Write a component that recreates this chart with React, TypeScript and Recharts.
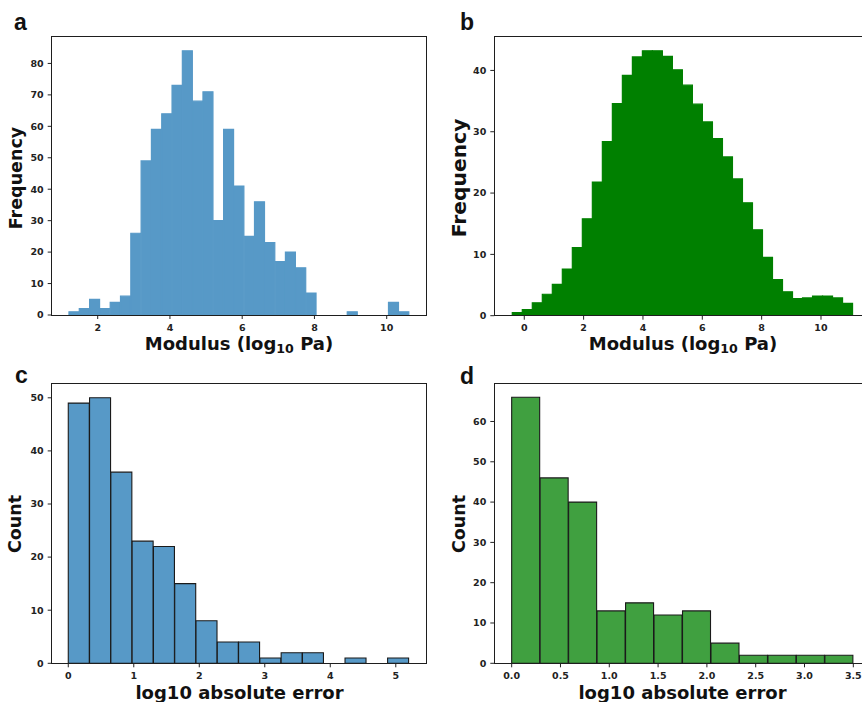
import React from 'react';
import { BarChart, Bar, XAxis, YAxis } from 'recharts';

// histogram bin counts
const modulusExpCounts = [1, 2, 5, 2, 4, 6, 26, 49, 59, 64, 73, 84, 68, 71, 30, 59, 41, 25, 36, 23, 17, 20, 15, 7, 0, 0, 0, 1, 0, 0, 0, 4, 1];
const modulusExpStart = 1.205;
const modulusExpWidth = 0.2853;

const modulusPredFreq = [0.5, 1.0, 2.1, 3.5, 5.1, 7.6, 11.1, 15.8, 21.8, 28.4, 34.6, 39.2, 42.2, 43.2, 43.2, 42.3, 40.1, 37.6, 34.5, 31.6, 28.9, 25.9, 22.3, 18.4, 14.0, 9.5, 5.9, 3.9, 2.8, 2.9, 3.2, 3.2, 2.9, 2.0];
const modulusPredStart = -0.404;
const modulusPredWidth = 0.3373;

const errorBlueCounts = [49, 50, 36, 23, 22, 15, 8, 4, 4, 1, 2, 2, 0, 1, 0, 1];
const errorBlueStart = 0;
const errorBlueWidth = 0.325;

const errorGreenCounts = [66, 46, 40, 13, 15, 12, 13, 5, 2, 2, 2, 2];
const errorGreenStart = 0;
const errorGreenWidth = 0.2917;

const ticksA = [2, 4, 6, 8, 10];
const ticksB = [0, 2, 4, 6, 8, 10];
const ticksC = [0, 1, 2, 3, 4, 5];
const ticksD = [0, 0.5, 1, 1.5, 2, 2.5, 3, 3.5];
const yTicksA = [0, 10, 20, 30, 40, 50, 60, 70, 80];
const yTicksB = [0, 10, 20, 30, 40];
const yTicksC = [0, 10, 20, 30, 40, 50];
const yTicksD = [0, 10, 20, 30, 40, 50, 60];

const toBins = (counts: number[], start: number, width: number) =>
  counts.map((y, i) => ({ x: start + width * (i + 0.5), y }));

const tickStyle = { fontSize: 9.5, fontWeight: 700, fill: '#222', fontFamily: 'DejaVu Sans' };
const Y_W = 40;
const X_H = 30;

interface PanelProps {
  data: { x: number; y: number }[];
  chart: { left: number; top: number; width: number; height: number };
  plot: { l: number; t: number; r: number; b: number };
  xDomain: [number, number];
  yDomain: [number, number];
  xTicks: number[];
  yTicks: number[];
  xFormat?: (v: number) => string;
  fill: string;
  stroke: string;
  strokeWidth: number;
}

function Panel({ data, chart, plot, xDomain, yDomain, xTicks, yTicks, xFormat, fill, stroke, strokeWidth }: PanelProps) {
  const margin = {
    top: plot.t - chart.top,
    left: plot.l - chart.left - Y_W,
    right: chart.left + chart.width - plot.r,
    bottom: chart.top + chart.height - plot.b - X_H,
  };
  return (
    <>
      <div style={{ position: 'absolute', left: chart.left, top: chart.top }}>
        <BarChart width={chart.width} height={chart.height} data={data} margin={margin} barCategoryGap={0} barGap={0}>
          <XAxis
            dataKey="x"
            type="number"
            domain={xDomain}
            ticks={xTicks}
            allowDataOverflow
            interval={0}
            height={X_H}
            tickSize={4}
            tickMargin={5}
            axisLine={false}
            tickLine={{ stroke: '#222' }}
            tick={tickStyle}
            tickFormatter={xFormat}
          />
          <YAxis
            type="number"
            domain={yDomain}
            ticks={yTicks}
            allowDataOverflow
            interval={0}
            width={Y_W}
            tickSize={4}
            tickMargin={4}
            axisLine={false}
            tickLine={{ stroke: '#222' }}
            tick={tickStyle}
          />
          <Bar dataKey="y" fill={fill} stroke={stroke} strokeWidth={strokeWidth} isAnimationActive={false} />
        </BarChart>
      </div>
      <div
        style={{
          position: 'absolute',
          left: plot.l - 0.8,
          top: plot.t - 0.8,
          width: plot.r - plot.l + 1.6,
          height: plot.b - plot.t + 1.6,
          border: '1.6px solid #1e1e1e',
          boxSizing: 'border-box',
          pointerEvents: 'none',
        }}
      />
    </>
  );
}

const letterStyle: React.CSSProperties = {
  position: 'absolute',
  fontFamily: '"Liberation Sans", Arial, sans-serif',
  fontWeight: 700,
  fontSize: 23,
  lineHeight: 1,
  color: '#111',
};

const titleStyle = (x: number, y: number, size: number, rotate = false): React.CSSProperties => ({
  position: 'absolute',
  left: x,
  top: y,
  transform: `translate(-50%, -50%)${rotate ? ' rotate(-90deg)' : ''}`,
  fontFamily: '"DejaVu Sans", sans-serif',
  fontWeight: 700,
  fontSize: size,
  lineHeight: 1,
  whiteSpace: 'nowrap',
  color: '#111',
});

const ModulusLabel = () => (
  <>
    Modulus (log<sub style={{ fontSize: '0.7em', verticalAlign: '-0.25em' }}>10</sub> Pa)
  </>
);

export default function App() {
  return (
    <div style={{ position: 'absolute', left: 0, top: 0, width: 862, height: 702, overflow: 'hidden', background: '#fff' }}>
      <Panel
        data={toBins(modulusExpCounts, modulusExpStart, modulusExpWidth)}
        chart={{ left: 0, top: 0, width: 440, height: 360 }}
        plot={{ l: 51.7, t: 36.7, r: 426.7, b: 315 }}
        xDomain={[0.727, 11.107]}
        yDomain={[0, 88.5]}
        xTicks={ticksA}
        yTicks={yTicksA}
        fill="#5799C7"
        stroke="#5799C7"
        strokeWidth={1.2}
      />
      <Panel
        data={toBins(modulusPredFreq, modulusPredStart, modulusPredWidth)}
        chart={{ left: 440, top: 0, width: 440, height: 360 }}
        plot={{ l: 494.3, t: 36.7, r: 869.5, b: 315.7 }}
        xDomain={[-1.01, 11.635]}
        yDomain={[0, 45.5]}
        xTicks={ticksB}
        yTicks={yTicksB}
        fill="#008000"
        stroke="#008000"
        strokeWidth={1.2}
      />
      <Panel
        data={toBins(errorBlueCounts, errorBlueStart, errorBlueWidth)}
        chart={{ left: 0, top: 360, width: 440, height: 342 }}
        plot={{ l: 51.7, t: 384, r: 426.7, b: 663.3 }}
        xDomain={[-0.253, 5.472]}
        yDomain={[0, 52.6]}
        xTicks={ticksC}
        yTicks={yTicksC}
        fill="#5799C7"
        stroke="#1a1a1a"
        strokeWidth={1.1}
      />
      <Panel
        data={toBins(errorGreenCounts, errorGreenStart, errorGreenWidth)}
        chart={{ left: 440, top: 360, width: 440, height: 342 }}
        plot={{ l: 494.3, t: 384, r: 870.4, b: 663.3 }}
        xDomain={[-0.178, 3.675]}
        yDomain={[0, 69.3]}
        xTicks={ticksD}
        yTicks={yTicksD}
        xFormat={(v) => v.toFixed(1)}
        fill="#40A040"
        stroke="#1a1a1a"
        strokeWidth={1.1}
      />

      <div style={{ ...letterStyle, left: 14, top: 11 }}>a</div>
      <div style={{ ...letterStyle, left: 460, top: 10.5 }}>b</div>
      <div style={{ ...letterStyle, left: 15, top: 364 }}>c</div>
      <div style={{ ...letterStyle, left: 460, top: 364.5 }}>d</div>

      <div style={titleStyle(239, 345, 18)}><ModulusLabel /></div>
      <div style={titleStyle(683, 345, 18)}><ModulusLabel /></div>
      <div style={titleStyle(239.5, 693, 18)}>log10 absolute error</div>
      <div style={titleStyle(682.5, 693, 18)}>log10 absolute error</div>

      <div style={titleStyle(17, 178, 17.5, true)}>Frequency</div>
      <div style={titleStyle(458.5, 177.5, 20.3, true)}>Frequency</div>
      <div style={titleStyle(15.5, 524, 17.5, true)}>Count</div>
      <div style={titleStyle(459.5, 524, 17.5, true)}>Count</div>
    </div>
  );
}
